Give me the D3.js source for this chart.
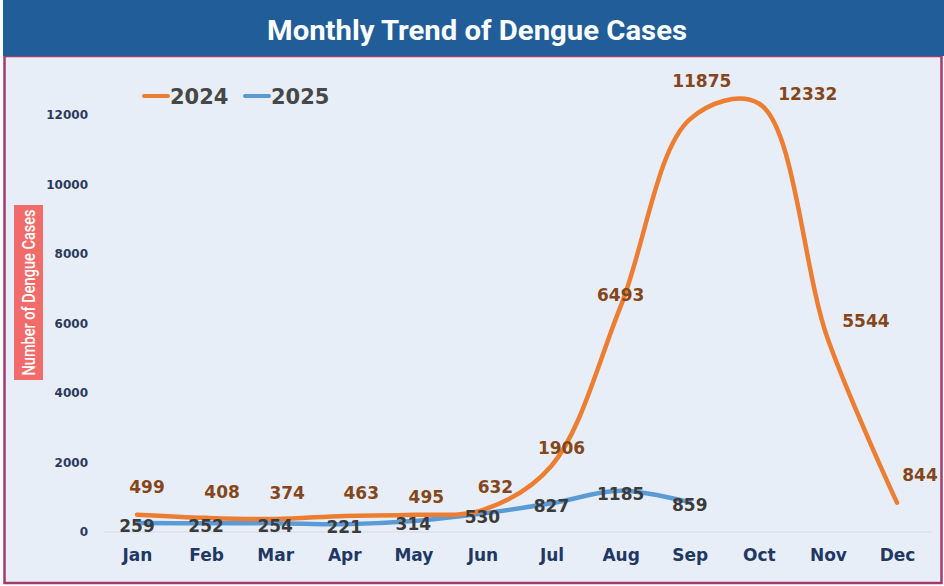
<!DOCTYPE html>
<html>
<head>
<meta charset="utf-8">
<script src="https://cdn.jsdelivr.net/npm/d3@7"></script>
<style>
  body { margin: 0; background: #fff; }
  svg { display: block; }
</style>
</head>
<body>
<svg id="chart" width="944" height="586"></svg>
<script>
    // data
    const months = ['Jan','Feb','Mar','Apr','May','Jun','Jul','Aug','Sep','Oct','Nov','Dec']
    const cases2024 = [499, 408, 374, 463, 495, 632, 1906, 6493, 11875, 12332, 5544, 844]
    const cases2025 = [259, 252, 254, 221, 314, 530, 827, 1185, 859]
    const yTicks = [0, 2000, 4000, 6000, 8000, 10000, 12000]

    // label nudges for the 2024 series (px)
    const shift2024 = [[10,-28],[16,-26],[12,-26],[17,-23],[13,-18],[13,-23],[10,-18],[0,-11],[12,-38],[49,-10],[38,-18],[23,-28]]

    const W = 944, H = 586
    const svg = d3.select('#chart')

    /**
     * @Frame
     */
    svg.append('rect')
        .attr('x', 4.5).attr('y', 56)
        .attr('width', 937).attr('height', 527)
        .attr('fill', '#E8EEF8')
        .attr('stroke', '#A33A6E')
        .attr('stroke-width', 2.5)

    svg.append('rect')
        .attr('x', 3).attr('y', 0)
        .attr('width', W - 3).attr('height', 56)
        .attr('fill', '#215E99')

    svg.append('text')
        .attr('x', 477).attr('y', 40)
        .attr('text-anchor', 'middle')
        .attr('fill', '#fff')
        .style('font-family', 'Roboto')
        .style('font-weight', 700)
        .style('font-size', '28px')
        .attr('textLength', 420)
        .attr('lengthAdjust', 'spacingAndGlyphs')
        .text('Monthly Trend of Dengue Cases')

    /**
     * @Scales
     */
    const x = d3.scalePoint().domain(months).range([137, 897])
    const y = d3.scaleLinear().domain([0, 12000]).range([532, 115])

    // baseline
    svg.append('line')
        .attr('x1', 104).attr('x2', 932)
        .attr('y1', y(0)).attr('y2', y(0))
        .attr('stroke', '#D4D9E2')
        .attr('stroke-width', 1)

    const yAxis = svg.append('g')
        .attr('transform', 'translate(88,0)')
        .call(d3.axisLeft(y).tickValues(yTicks).tickSize(0).tickPadding(0).tickFormat(d3.format('d')))
    yAxis.select('.domain').remove()
    yAxis.selectAll('text')
        .attr('fill', '#2B3A5C')
        .style('font-family', 'DejaVu Sans')
        .style('font-weight', 700)
        .style('font-size', '12px')

    const xAxis = svg.append('g')
        .attr('transform', 'translate(0,548)')
        .call(d3.axisBottom(x).tickSize(0).tickPadding(0))
    xAxis.select('.domain').remove()
    xAxis.selectAll('text')
        .attr('fill', '#1F3864')
        .attr('dy', '0.75em')
        .style('font-family', 'DejaVu Sans')
        .style('font-weight', 700)
        .style('font-size', '17px')

    // y title
    svg.append('rect')
        .attr('x', 14).attr('y', 205)
        .attr('width', 29).attr('height', 175)
        .attr('fill', '#F26B6B')
    svg.append('text')
        .attr('transform', 'translate(34.5,292.5) rotate(-90)')
        .attr('text-anchor', 'middle')
        .attr('fill', '#fff')
        .style('font-family', 'Roboto')
        .style('font-weight', 500)
        .style('font-size', '18px')
        .attr('textLength', 166)
        .attr('lengthAdjust', 'spacingAndGlyphs')
        .text('Number of Dengue Cases')

    /**
     * @Lines
     */
    const line = d3.line()
        .x((d, i) => x(months[i]))
        .y(d => y(d))
        .curve(d3.curveCatmullRom.alpha(0.5))

    svg.append('path')
        .datum(cases2025)
        .attr('d', line)
        .attr('fill', 'none')
        .attr('stroke', '#5B9BD5')
        .attr('stroke-width', 4.5)
        .attr('stroke-linecap', 'round')

    svg.append('path')
        .datum(cases2024)
        .attr('d', line)
        .attr('fill', 'none')
        .attr('stroke', '#ED7D31')
        .attr('stroke-width', 4.5)
        .attr('stroke-linecap', 'round')

    /**
     * @Labels
     */
    svg.append('g')
        .selectAll('text')
        .data(cases2024)
        .enter()
        .append('text')
        .attr('x', (d, i) => x(months[i]) + shift2024[i][0])
        .attr('y', (d, i) => y(d) + shift2024[i][1])
        .attr('dy', '0.36em')
        .attr('text-anchor', 'middle')
        .attr('fill', '#84461A')
        .style('font-family', 'DejaVu Sans')
        .style('font-weight', 700)
        .style('font-size', '17px')
        .text(d => d)

    svg.append('g')
        .selectAll('text')
        .data(cases2025)
        .enter()
        .append('text')
        .attr('x', (d, i) => x(months[i]))
        .attr('y', d => y(d) + 3)
        .attr('dy', '0.36em')
        .attr('text-anchor', 'middle')
        .attr('fill', '#3B3B3B')
        .style('font-family', 'DejaVu Sans')
        .style('font-weight', 700)
        .style('font-size', '17px')
        .text(d => d)

    /**
     * @Legend
     */
    const legend = svg.append('g')
        .selectAll('g')
        .data([['2024', '#ED7D31'], ['2025', '#5B9BD5']])
        .enter()
        .append('g')
        .attr('transform', (d, i) => `translate(${144 + i * 101},96)`)
    legend.append('line')
        .attr('x1', 0).attr('x2', 24)
        .attr('stroke', d => d[1])
        .attr('stroke-width', 4)
        .attr('stroke-linecap', 'round')
    legend.append('text')
        .attr('x', 26)
        .attr('dy', '0.36em')
        .attr('fill', '#474747')
        .style('font-family', 'DejaVu Sans')
        .style('font-weight', 700)
        .style('font-size', '21px')
        .text(d => d[0])
</script>
</body>
</html>
